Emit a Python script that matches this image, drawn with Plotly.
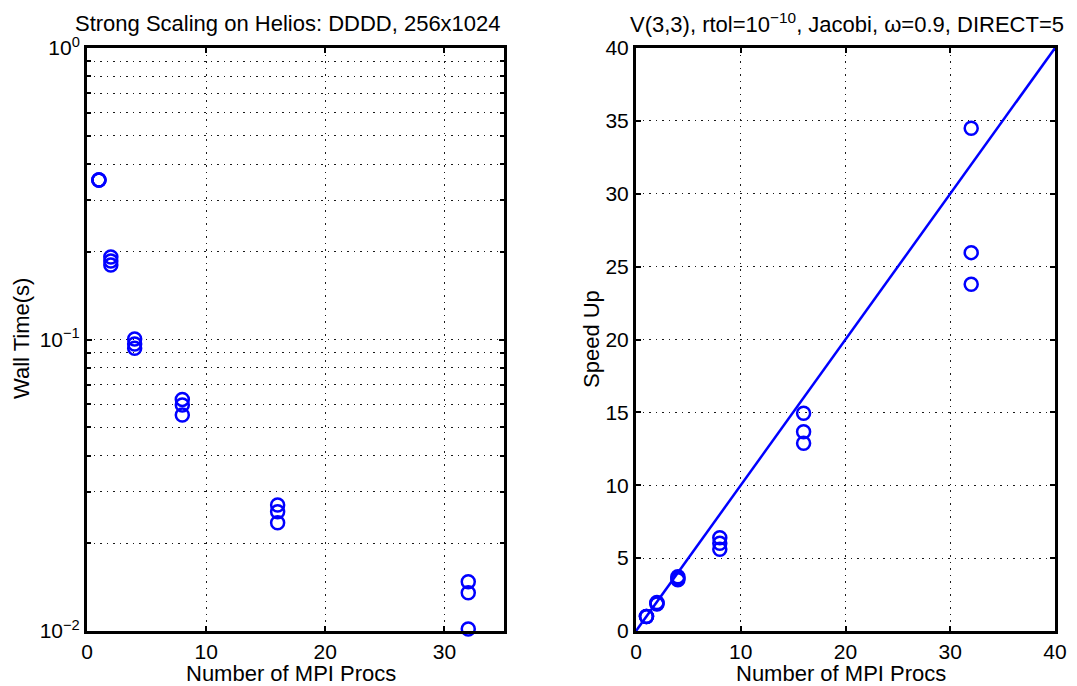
import plotly.graph_objects as go

# Processor counts (three runs at each count)
procs = [1, 1, 1, 2, 2, 2, 4, 4, 4, 8, 8, 8, 16, 16, 16, 32, 32, 32]

# Wall time in seconds
wall_time = [0.3525, 0.3525, 0.3525,
             0.192, 0.186, 0.180,
             0.1004, 0.0965, 0.0933,
             0.0623, 0.0596, 0.0551,
             0.02705, 0.02566, 0.02352,
             0.01476, 0.01353, 0.01016]

# Measured speed up
speed_up = [1.0, 1.0, 1.0,
            1.85, 1.88, 1.96,
            3.51, 3.62, 3.72,
            5.61, 6.02, 6.40,
            12.88, 13.67, 14.94,
            23.79, 25.96, 34.49]

# Ideal (linear) speed up
ideal_x = [0, 40]
ideal_y = [0, 40]

log_tickvals = [0.01, 0.1, 1]
log_ticktext = ["10<sup>−2</sup>", "10<sup>−1</sup>", "10<sup>0</sup>"]

left_title = "Strong Scaling on Helios: DDDD, 256x1024"
right_title = "V(3,3), rtol=10<sup>−10</sup>, Jacobi, ω=0.9, DIRECT=5"
xlabel = "Number of MPI Procs"

W, H = 1077, 686
BLUE = "#0000FF"
FONT = "Liberation Sans, Arial, sans-serif"
FS = 22
TICK_FS = 21

def px(x):
    return x / W

def py(y):
    return 1 - y / H

marker = dict(symbol="circle-open", size=13, color=BLUE, line=dict(width=2.5, color=BLUE))

fig = go.Figure()
fig.add_trace(go.Scatter(x=procs, y=wall_time, mode="markers", marker=marker,
                         xaxis="x", yaxis="y", cliponaxis=False, showlegend=False))
fig.add_trace(go.Scatter(x=ideal_x, y=ideal_y, mode="lines", line=dict(color=BLUE, width=2.5),
                         xaxis="x2", yaxis="y2", cliponaxis=False, showlegend=False))
fig.add_trace(go.Scatter(x=procs, y=speed_up, mode="markers", marker=marker,
                         xaxis="x2", yaxis="y2", cliponaxis=False, showlegend=False))

grid = dict(showgrid=True, gridcolor="#1a1a1a", gridwidth=1.3, griddash="1.5px,5px")
frame = dict(showline=True, linecolor="black", linewidth=3, mirror="allticks",
             ticks="inside", ticklen=5, tickwidth=2, tickcolor="black",
             zeroline=False, automargin=False,
             tickfont=dict(family=FONT, size=TICK_FS, color="black"))

ydom = [py(631), py(48)]

minor_vals = [m * 10 ** e for e in (-2, -1) for m in range(2, 10)]

fig.update_layout(
    template="none",
    width=W, height=H,
    margin=dict(l=0, r=0, t=0, b=0, pad=0),
    paper_bgcolor="white", plot_bgcolor="white",
    font=dict(family=FONT, size=FS, color="black"),
    xaxis=dict(domain=[px(87), px(504)], range=[0, 35], tickvals=[0, 10, 20, 30],
               anchor="y", **grid, **frame),
    yaxis=dict(domain=ydom, type="log", range=[-2, 0], tickvals=log_tickvals,
               ticktext=log_ticktext, anchor="x",
               minor=dict(tickvals=minor_vals, showgrid=True, gridcolor="#1a1a1a",
                          gridwidth=1.3, griddash="1.5px,5px", ticks="inside",
                          ticklen=4, tickwidth=1.5, tickcolor="black"),
               **grid, **frame),
    xaxis2=dict(domain=[px(636), px(1055)], range=[0, 40], dtick=10,
                anchor="y2", **grid, **frame),
    yaxis2=dict(domain=ydom, range=[0, 40], dtick=5, anchor="x2", **grid, **frame),
    annotations=[
        dict(text=left_title, x=px(288), y=py(23), xref="paper", yref="paper",
             showarrow=False, xanchor="center", yanchor="middle"),
        dict(text=right_title, x=px(847), y=py(23), xref="paper", yref="paper",
             showarrow=False, xanchor="center", yanchor="middle"),
        dict(text=xlabel, x=px(291), y=py(673), xref="paper", yref="paper",
             showarrow=False, xanchor="center", yanchor="middle"),
        dict(text=xlabel, x=px(841), y=py(673), xref="paper", yref="paper",
             showarrow=False, xanchor="center", yanchor="middle"),
        dict(text="Wall Time(s)", x=px(21), y=py(339), xref="paper", yref="paper",
             showarrow=False, textangle=-90, xanchor="center", yanchor="middle"),
        dict(text="Speed Up", x=px(591), y=py(339), xref="paper", yref="paper",
             showarrow=False, textangle=-90, xanchor="center", yanchor="middle"),
    ],
)

fig.write_html("out.html")
